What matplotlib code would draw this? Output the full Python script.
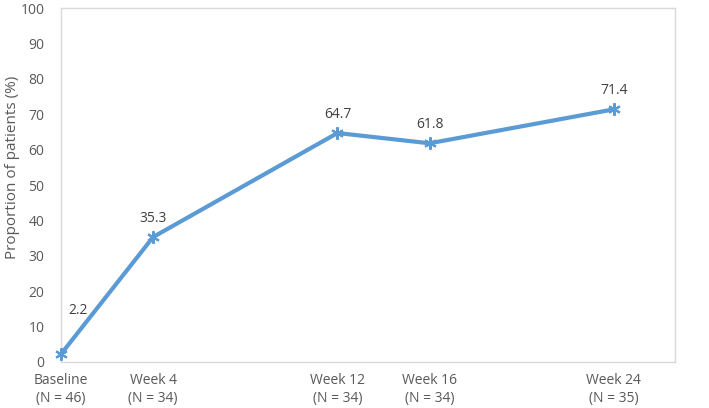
import numpy as np
import matplotlib.pyplot as plt

plt.rcParams['font.family'] = ['Open Sans', 'DejaVu Sans']

weeks = np.array([0, 4, 12, 16, 24])
proportion = np.array([2.2, 35.3, 64.7, 61.8, 71.4])
tick_labels = ['Baseline\n(N = 46)', 'Week 4\n(N = 34)', 'Week 12\n(N = 34)',
               'Week 16\n(N = 34)', 'Week 24\n(N = 35)']

fig = plt.figure(figsize=(7.09, 4.08), dpi=100)
ax = fig.add_axes([0.086, 0.113, 0.866, 0.867])

ax.plot(weeks, proportion, color='#5B9BD5', linewidth=3,
        marker=(6, 2, 0), markersize=9, markeredgewidth=1.5, markeredgecolor='#5B9BD5',
        clip_on=False, zorder=3)

for x, y in zip(weeks, proportion):
    if x == 0:
        ax.annotate(f'{y}', (x, y), xytext=(12, 26), textcoords='offset points',
                    ha='center', va='bottom', fontsize=10, color='#404040')
    else:
        ax.annotate(f'{y}', (x, y), xytext=(0, 8), textcoords='offset points',
                    ha='center', va='bottom', fontsize=10, color='#404040')

ax.set_xlim(0, 26.65)
ax.set_ylim(0, 100)
ax.set_yticks(np.arange(0, 101, 10))
ax.set_xticks(weeks)
ax.set_xticklabels(tick_labels, fontsize=10, color='#595959', linespacing=1.3)
ax.tick_params(axis='y', labelsize=10, labelcolor='#595959', length=0, pad=12)
ax.tick_params(axis='x', length=0, pad=8)
ax.set_ylabel('Proportion of patients (%)', fontsize=11, color='#595959')
ax.yaxis.set_label_coords(-0.066, 0.55)

for s in ax.spines.values():
    s.set_color('#D9D9D9')
    s.set_linewidth(1)

fig.savefig('out.png', dpi=100)
